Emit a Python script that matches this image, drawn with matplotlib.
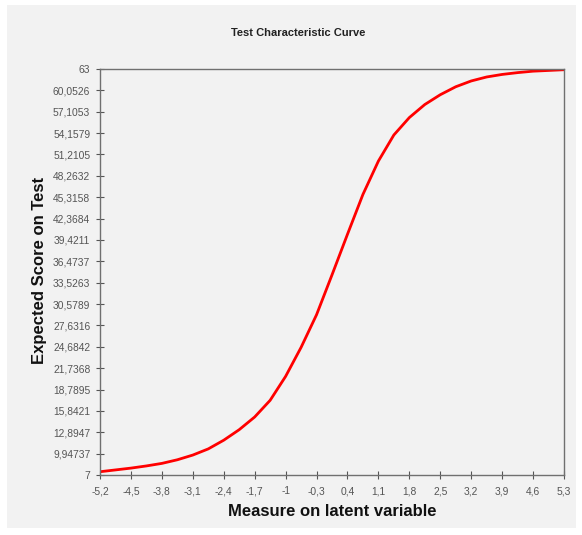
import matplotlib
matplotlib.use("Agg")
import matplotlib.pyplot as plt
from matplotlib.patches import Rectangle

matplotlib.rcParams['font.family'] = ["Liberation Sans", "DejaVu Sans"]

# values
theta = [-5.2, -4.85, -4.5, -4.15, -3.8, -3.45, -3.1, -2.75, -2.4, -2.05, -1.7,
         -1.35, -1.0, -0.65, -0.3, 0.05, 0.4, 0.75, 1.1, 1.45, 1.8, 2.15, 2.5,
         2.85, 3.2, 3.55, 3.9, 4.25, 4.6, 4.95, 5.3]
expected = [7.45, 7.7, 7.95, 8.25, 8.6, 9.1, 9.75, 10.6, 11.8, 13.25, 15.0,
            17.3, 20.6, 24.6, 29.1, 34.6, 40.2, 45.7, 50.3, 53.9, 56.3, 58.1, 59.45,
            60.55, 61.35, 61.9, 62.25, 62.5, 62.7, 62.8, 62.9]

x_labels = ["-5,2", "-4,5", "-3,8", "-3,1", "-2,4", "-1,7", "-1", "-0,3", "0,4",
            "1,1", "1,8", "2,5", "3,2", "3,9", "4,6", "5,3"]
y_labels = ["7", "9,94737", "12,8947", "15,8421", "18,7895", "21,7368", "24,6842",
            "27,6316", "30,5789", "33,5263", "36,4737", "39,4211", "42,3684",
            "45,3158", "48,2632", "51,2105", "54,1579", "57,1053", "60,0526", "63"]

BG = "#f2f2f2"
SPINE = "#707070"

fig = plt.figure(figsize=(5.82, 5.35), dpi=100)
fig.patch.set_facecolor("white")
fig.patches.append(Rectangle((7 / 582, 1 - 528 / 535), 569 / 582, 523 / 535,
                             transform=fig.transFigure, facecolor=BG,
                             edgecolor="none", zorder=-5))

ax = fig.add_axes([100 / 582, 1 - 475 / 535, 464 / 582, 406 / 535])
ax.set_zorder(2)
ax.set_facecolor(BG)
ax.plot(theta, expected, color="#ff0000", linewidth=2, solid_joinstyle="round")

x_ticks = [float(s.replace(",", ".")) for s in x_labels]
y_ticks = [float(s.replace(",", ".")) for s in y_labels]
ax.set_xticks(x_ticks)
ax.set_xticklabels(x_labels)
ax.set_yticks(y_ticks)
ax.set_yticklabels(y_labels)
ax.set_xlim(-5.2, 5.3)
ax.set_ylim(7, 63)

for sp in ax.spines.values():
    sp.set_color(SPINE)
    sp.set_linewidth(1)
ax.tick_params(direction="inout", length=6, width=0.8, color="#555555",
               labelsize=7.4, labelcolor="#555555")
ax.tick_params(axis="y", pad=4)
ax.tick_params(axis="x", pad=5)

fig.text(0.512, 1 - 33 / 535, "Test Characteristic Curve", ha="center",
         va="center", fontsize=8, fontweight="bold", color="#222222")
ax.set_xlabel("Measure on latent variable", fontsize=12, fontweight="bold",
              color="#111111", labelpad=6)
fig.text(40 / 582, 1 - 270 / 535, "Expected Score on Test", rotation=90,
         ha="center", va="center", fontsize=12, fontweight="bold",
         color="#111111")

fig.savefig("out.png", dpi=100, facecolor=fig.get_facecolor())
